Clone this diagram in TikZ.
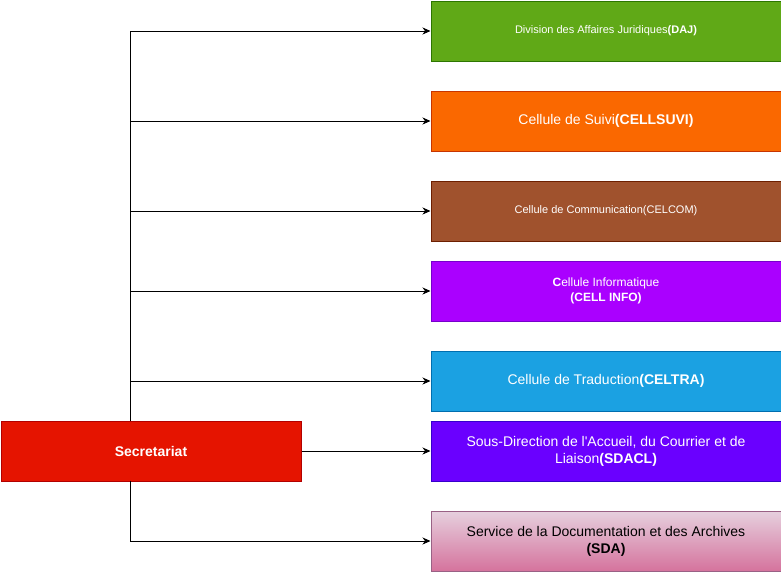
\documentclass[tikz,border=0pt]{standalone}
\usepackage{fontspec}
\setmainfont{Liberation Sans}[Ligatures=TeXOff]
\usetikzlibrary{arrows.meta}
\definecolor{dajf}{HTML}{60A917}\definecolor{dajs}{HTML}{2D7600}
\definecolor{suvf}{HTML}{FA6800}\definecolor{suvs}{HTML}{C73500}
\definecolor{comf}{HTML}{A0522D}\definecolor{coms}{HTML}{6D1F00}
\definecolor{inff}{HTML}{AA00FF}\definecolor{infs}{HTML}{7700CC}
\definecolor{traf}{HTML}{1BA1E2}\definecolor{tras}{HTML}{006EAF}
\definecolor{sdaclf}{HTML}{6A00FF}\definecolor{sdacls}{HTML}{3700CC}
\definecolor{sdat}{HTML}{E6D0DE}\definecolor{sdab}{HTML}{D5739D}\definecolor{sdas}{HTML}{996185}
\definecolor{secf}{HTML}{E51400}\definecolor{secs}{HTML}{B20000}
\tikzset{
  unitbox/.style={draw, line width=1pt, rectangle, anchor=north west, minimum width=350pt, minimum height=60pt, inner sep=0pt, align=center, text=white},
  fsmall/.style={font=\fontsize{11}{13.2}\selectfont},
  fmid/.style={font=\fontsize{12}{14.4}\selectfont},
  fbig/.style={font=\fontsize{14}{16.8}\selectfont},
  conn/.style={draw=black, line width=1pt, -{Stealth[length=8pt,width=7pt,inset=2.5pt]}},
}
\begin{document}
\begin{tikzpicture}[x=1pt,y=-1pt]
\useasboundingbox (0,0) rectangle (781,571);
\node[unitbox, fsmall, fill=dajf, draw=dajs] (daj) at (430.5,0.5) {Division des Affaires Juridiques\textbf{(DAJ)}};
\node[unitbox, fbig, fill=suvf, draw=suvs] (suvi) at (430.5,90.5) {Cellule de Suivi\textbf{(CELLSUVI)}};
\node[unitbox, fsmall, fill=comf, draw=coms] (com) at (430.5,180.5) {Cellule de Communication(CELCOM)};
\node[unitbox, fmid, fill=inff, draw=infs] (info) at (430.5,260.5) {\textbf{C}ellule Informatique\\\textbf{(CELL INFO)}};
\node[unitbox, fbig, fill=traf, draw=tras] (tra) at (430.5,350.5) {Cellule de Traduction\textbf{(CELTRA)}};
\node[unitbox, fbig, fill=sdaclf, draw=sdacls] (sdacl) at (430.5,420.5) {Sous-Direction de l'Accueil, du Courrier et de\\Liaison\textbf{(SDACL)}};
\node[unitbox, fbig, top color=sdat, bottom color=sdab, draw=sdas, text=black] (sda) at (430.5,510.5) {Service de la Documentation et des Archives\\\textbf{(SDA)}};
\node[unitbox, minimum width=300pt, fbig, fill=secf, draw=secs, font=\fontsize{14}{16.8}\selectfont\bfseries] (sec) at (0.5,420.5) {Secretariat};
\coordinate (trunk) at (130.5,420.5);
\draw[conn] (trunk) |- (daj.west);
\draw[conn] (trunk) |- (suvi.west);
\draw[conn] (trunk) |- (com.west);
\draw[conn] (trunk) |- (info.west);
\draw[conn] (trunk) |- (tra.west);
\draw[conn] (sec.east) -- (sdacl.west);
\coordinate (trunkb) at (130.5,480.5);
\draw[conn] (trunkb) |- (sda.west);
\end{tikzpicture}
\end{document}
